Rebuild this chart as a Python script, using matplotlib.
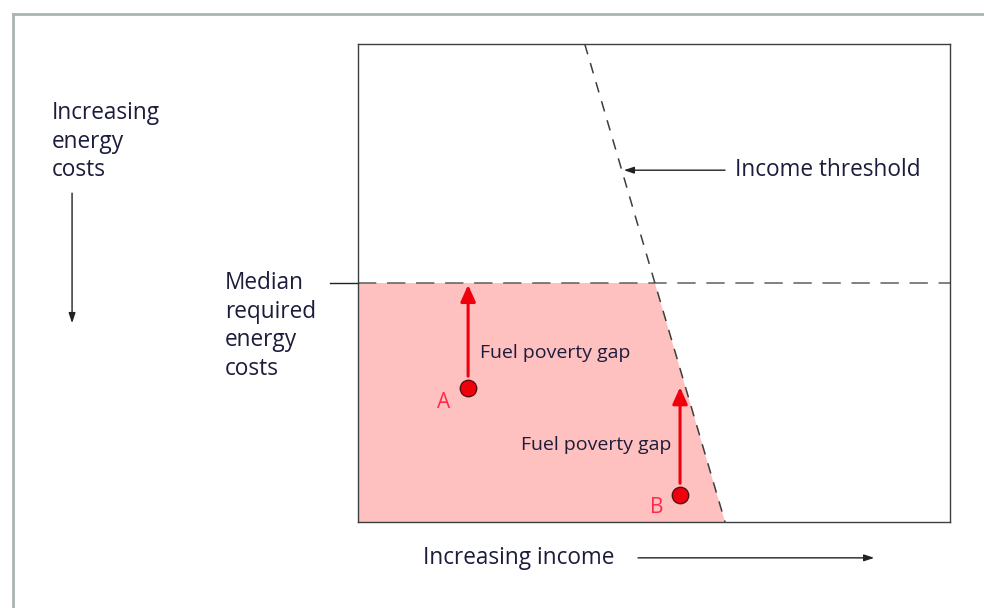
import matplotlib.pyplot as plt
from matplotlib.patches import Polygon
from matplotlib.lines import Line2D

plt.rcParams['font.family'] = ['Open Sans', 'DejaVu Sans']

# diagram coordinates: x = income (0..1 inside box), y = 1 - energy cost level (0..1)
threshold_x = [0.383, 0.620]      # income threshold line, top -> bottom of box
threshold_y = [1.0, 0.0]
median_y = 0.5                    # median required energy costs
household_x = [0.186, 0.544]      # A, B
household_y = [0.280, 0.056]
household_labels = ['A', 'B']
gap_tip_y = [0.496, 0.282]        # end of fuel poverty gap arrows

text_col = '#1c1c3c'
red = '#f0000c'
label_red = '#ff2a4a'
big = 16.3

fig = plt.figure(figsize=(9.84, 6.08), dpi=100)
ax = fig.add_axes([358 / 984, 86 / 608, 592 / 984, 478 / 608])
ax.set_xlim(0, 1)
ax.set_ylim(0, 1)
ax.set_xticks([])
ax.set_yticks([])
for s in ax.spines.values():
    s.set_color('#3a3f40')
    s.set_linewidth(1.0)

# shaded fuel-poor region: below median, left of threshold
slope = (threshold_x[1] - threshold_x[0]) / (threshold_y[1] - threshold_y[0])
x_at_median = threshold_x[1] + slope * (median_y - threshold_y[1])
ax.add_patch(Polygon([(0, 0), (0, median_y), (x_at_median, median_y),
                      (threshold_x[1], threshold_y[1])],
                     closed=True, facecolor='#ffc0c0', edgecolor='none', zorder=1))

ax.plot([0, 1], [median_y, median_y], color='#5a5f60', lw=1.1,
        dashes=(12, 7), zorder=2)
ax.plot(threshold_x, threshold_y, color='#3a3f40', lw=1.1,
        dashes=(7, 6), zorder=2)

# households and their gaps
ax.scatter(household_x, household_y, s=140, color=red, edgecolor='#5a1010',
           linewidth=1.0, zorder=4)
for hx, hy, tip, lab, dx, dy in zip(household_x, household_y, gap_tip_y,
                                    household_labels, [-0.042, -0.039], [-0.030, -0.025]):
    ax.annotate('', xy=(hx, tip), xytext=(hx, hy + 0.025),
                arrowprops=dict(arrowstyle='-|>,head_length=1.0,head_width=0.45',
                                color=red, lw=2.2, shrinkA=0, shrinkB=0), zorder=3)
    ax.text(hx + dx, hy + dy, lab, color=label_red, fontsize=15,
            ha='center', va='center')

ax.text(0.206, 0.354, 'Fuel poverty gap', color=text_col, fontsize=14,
        ha='left', va='center')
ax.text(0.275, 0.162, 'Fuel poverty gap', color=text_col, fontsize=14,
        ha='left', va='center')

# income threshold label
ax.annotate('', xy=(0.449, 0.736), xytext=(0.620, 0.736),
            arrowprops=dict(arrowstyle='-|>,head_length=0.6,head_width=0.2',
                            color='#222222', lw=1.0, shrinkA=0, shrinkB=0))
ax.text(0.636, 0.736, 'Income threshold', color=text_col, fontsize=big,
        ha='left', va='center')

# median label with leader
ax.plot([-0.047, 0], [median_y, median_y], color='#222222', lw=1.0, clip_on=False)
ax.text(-0.225, 0.410, 'Median\nrequired\nenergy\ncosts', color=text_col,
        fontsize=big, ha='left', va='center', linespacing=1.25)

# energy cost axis label
ax.text(-0.517, 0.795, 'Increasing\nenergy\ncosts', color=text_col, fontsize=big,
        ha='left', va='center', linespacing=1.25)
ax.annotate('', xy=(-0.483, 0.416), xytext=(-0.483, 0.688),
            arrowprops=dict(arrowstyle='-|>,head_length=0.6,head_width=0.2',
                            color='#222222', lw=1.0, shrinkA=0, shrinkB=0),
            annotation_clip=False)

# income axis label
ax.text(0.110, -0.075, 'Increasing income', color=text_col, fontsize=big,
        ha='left', va='center')
ax.annotate('', xy=(0.872, -0.075), xytext=(0.473, -0.075),
            arrowprops=dict(arrowstyle='-|>,head_length=0.6,head_width=0.2',
                            color='#222222', lw=1.0, shrinkA=0, shrinkB=0),
            annotation_clip=False)

# outer frame (left and top edges only)
fig.add_artist(Line2D([12.5 / 984, 12.5 / 984], [0, 1 - 14 / 608],
                      color='#a9b5b4', lw=2, transform=fig.transFigure))
fig.add_artist(Line2D([12.5 / 984, 1], [1 - 14 / 608, 1 - 14 / 608],
                      color='#a9b5b4', lw=2, transform=fig.transFigure))

fig.savefig('out.png', dpi=100)
